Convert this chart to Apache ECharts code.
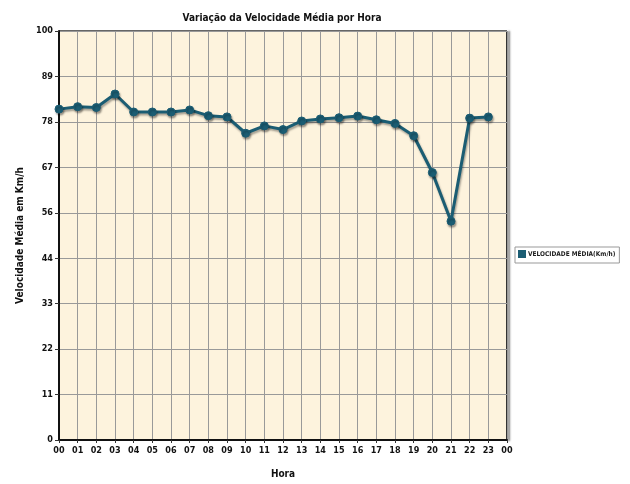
<!DOCTYPE html>
<html><head><meta charset="utf-8">
<script src="https://cdn.jsdelivr.net/npm/echarts@6/dist/echarts.min.js"></script>
<style>html,body{margin:0;padding:0;background:#fff}#c{width:630px;height:484px}</style>
</head><body><div id="c"></div>
<script>
var hours = [0,1,2,3,4,5,6,7,8,9,10,11,12,13,14,15,16,17,18,19,20,21,22,23];
var speed = [80.9,81.5,81.3,84.6,80.2,80.2,80.2,80.7,79.3,79.0,75.0,76.8,75.9,78.0,78.5,78.8,79.2,78.3,77.4,74.4,65.4,53.5,78.7,79.0];
var seriesName = 'VELOCIDADE MÉDIA(Km/h)';
var titleText = 'Variação da Velocidade Média por Hora';
var yName = 'Velocidade Média em Km/h';
var xName = 'Hora';

var font = '"DejaVu Sans Condensed", "DejaVu Sans", sans-serif';
var chart = echarts.init(document.getElementById('c'));
chart.setOption({
  animation: false,
  title: { text: titleText, left: 277, top: 8, textAlign: 'center',
    textStyle: { fontFamily: font, fontSize: 10, fontWeight: 'bold', color: '#111' } },
  legend: { data: [{ name: seriesName, icon: 'rect' }], orient: 'vertical', left: 515, top: 247,
    itemWidth: 8, itemHeight: 8, itemGap: 2, padding: [3, 4, 5, 3],
    borderColor: '#999', borderWidth: 1, backgroundColor: '#fff',
    textStyle: { fontFamily: font, fontSize: 6.5, fontWeight: 'bold', color: '#222', padding: [-4, 0, 0, -3] } },
  grid: { left: 59, top: 31, right: 123, bottom: 43, show: true, backgroundColor: '#fdf3dd',
    borderColor: '#333', borderWidth: 0 },
  xAxis: { type: 'value', min: 0, max: 24, interval: 1,
    name: xName, nameLocation: 'middle', nameGap: 29,
    nameTextStyle: { fontFamily: font, fontSize: 10, fontWeight: 'bold', color: '#111' },
    axisLine: { show: true, onZero: false, lineStyle: { color: '#111', width: 2 } },
    axisTick: { show: true, length: 3, lineStyle: { color: '#333' } },
    axisLabel: { fontFamily: font, fontSize: 9, fontWeight: 'bold', color: '#111', margin: 6,
      formatter: function (v) { var h = v % 24; return (h < 10 ? '0' : '') + h; } },
    splitLine: { show: true, lineStyle: { color: '#999', width: 1 } } },
  yAxis: { type: 'value', min: 0, max: 100, interval: 100 / 9,
    name: yName, nameLocation: 'middle', nameGap: 34, nameRotate: 90,
    nameTextStyle: { fontFamily: font, fontSize: 10, fontWeight: 'bold', color: '#111' },
    axisLine: { show: true, lineStyle: { color: '#111', width: 2 } },
    axisTick: { show: true, length: 4, lineStyle: { color: '#333' } },
    axisLabel: { fontFamily: font, fontSize: 9, fontWeight: 'bold', color: '#111', margin: 6,
      formatter: function (v) { return Math.round(v); } },
    splitLine: { show: true, lineStyle: { color: '#999', width: 1 } } },
  series: [{ name: seriesName, type: 'line', data: hours.map(function (h, i) { return [h, speed[i]]; }),
    symbol: 'circle', symbolSize: 8,
    itemStyle: { color: '#1b5d73', borderColor: '#1b5d73', shadowColor: 'rgba(0,0,0,0.35)', shadowBlur: 2, shadowOffsetX: 1, shadowOffsetY: 2 },
    lineStyle: { color: '#1b5d73', width: 3, shadowColor: 'rgba(0,0,0,0.35)', shadowBlur: 2, shadowOffsetX: 1, shadowOffsetY: 2 } }],
  graphic: [
    { type: 'line', shape: { x1: 507, y1: 31, x2: 507, y2: 441 }, style: { stroke: '#333', lineWidth: 2, shadowColor: 'rgba(0,0,0,0.5)', shadowBlur: 2, shadowOffsetX: 2 } },
    { type: 'line', shape: { x1: 59, y1: 31, x2: 507, y2: 31 }, style: { stroke: '#333', lineWidth: 1.5 } }
  ]
});
</script></body></html>
